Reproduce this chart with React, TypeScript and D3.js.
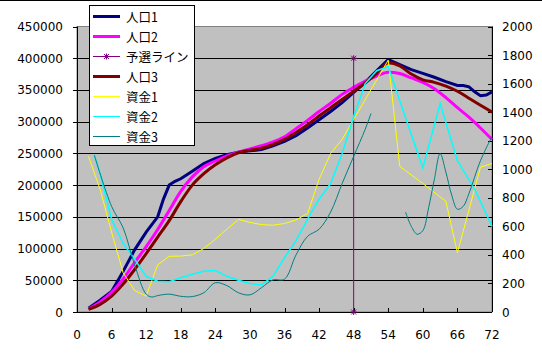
import React from 'react';
import * as d3 from 'd3';

// x positions (months) and values
const ages = [2, 4, 6, 8, 10, 12, 14, 16, 18, 20, 22, 24, 26, 28, 30, 32, 34, 36, 38, 40, 42, 44, 46, 48, 50, 52, 54, 56, 58, 60, 62, 64, 66, 68, 70, 72];

const pop1X = [2, 4, 6, 8, 10, 12, 14, 15, 16, 17, 18, 20, 22, 24, 26, 28, 30, 32, 34, 36, 38, 40, 42, 44, 46, 48, 50, 52, 54, 56, 58, 60, 62, 64, 66, 67, 68, 69, 70, 71, 72];
const pop1 = [6000, 18500, 32500, 64000, 98000, 126000, 150000, 178000, 200000, 206000, 210000, 222000, 234000, 242000, 248000, 252000, 254000, 256000, 262000, 269000, 278000, 290000, 303000, 316000, 330000, 346000, 362000, 380000, 398000, 390000, 382000, 376000, 370000, 363000, 357000, 357000, 355000, 347000, 341000, 342000, 347000];

const pop2 = [5000, 16000, 31000, 52000, 78000, 103000, 130000, 160000, 190000, 213000, 229000, 238000, 246000, 252000, 257000, 262000, 268000, 276000, 289000, 302000, 316000, 329000, 343000, 354000, 364000, 372000, 378000, 376000, 369000, 362000, 352000, 338000, 322000, 307000, 290000, 272000];

const pop3 = [4000, 12000, 25000, 44000, 67000, 92000, 118000, 144000, 174000, 200000, 218000, 232000, 243000, 251000, 255000, 258000, 264000, 272000, 283000, 295000, 309000, 322000, 335000, 348000, 361000, 376000, 393000, 388000, 375000, 366000, 362000, 356000, 348000, 337000, 326000, 315000];

const cutX = [48, 48];
const cut = [0, 400000];

const fund1X = [2, 4, 6, 8, 10, 12, 14, 16, 18, 20, 22, 24, 26, 28, 30, 32, 34, 36, 38, 40, 42, 44, 46, 54, 56, 60, 64, 66, 70, 72];
const fund1 = [1090, 860, 560, 275, 150, 112, 330, 390, 392, 400, 445, 510, 580, 648, 628, 612, 608, 620, 645, 690, 930, 1110, 1210, 1765, 1020, 900, 775, 415, 1015, 1040];

const fund2X = [3, 4, 6, 8, 10, 12, 14, 16, 18, 20, 22, 24, 26, 28, 30, 32, 34, 36, 38, 40, 42, 44, 46, 48, 50, 52, 54, 57, 60, 63, 66, 69, 72];
const fund2 = [1100, 970, 650, 480, 370, 250, 215, 212, 240, 265, 285, 290, 250, 222, 200, 190, 250, 380, 500, 650, 790, 900, 1110, 1370, 1600, 1690, 1720, 1360, 1010, 1460, 1060, 860, 600];

const fund3X = [3, 6, 8, 10, 12, 13, 14, 16, 18, 20, 22, 24, 26, 28, 30, 32, 34, 36, 38, 40, 42, 44, 46, 48, 50, 51, 54, 57, 58, 59, 60, 61, 62, 63, 64, 65, 66, 67, 68, 70, 72];
const fund3 = [1100, 740, 590, 330, 125, 105, 115, 125, 110, 108, 135, 205, 185, 135, 120, 170, 225, 230, 400, 530, 580, 700, 900, 1090, 1280, 1390, null, 700, 600, 545, 570, 730, 930, 1110, 980, 820, 720, 740, 830, 1060, 1230];

const leftTicks = [0, 50000, 100000, 150000, 200000, 250000, 300000, 350000, 400000, 450000];
const rightTicks = [0, 200, 400, 600, 800, 1000, 1200, 1400, 1600, 1800, 2000];
const xTicks = [0, 6, 12, 18, 24, 30, 36, 42, 48, 54, 60, 66, 72];

const legendItems = [
  { name: '人口1', color: '#000080', w: 3 },
  { name: '人口2', color: '#FF00FF', w: 3 },
  { name: '予選ライン', color: '#800080', w: 1, star: true },
  { name: '人口3', color: '#800000', w: 3 },
  { name: '資金1', color: '#FFFF00', w: 1 },
  { name: '資金2', color: '#00FFFF', w: 1 },
  { name: '資金3', color: '#008080', w: 1 },
];

const W = 542, H = 353;
const left = 77, right = 492, top = 26.5, bottom = 312;
const numFont = 'DejaVu Sans, Verdana, sans-serif';

const Star = ({ cx, cy, color }) => (
  <g stroke={color} strokeWidth={1}>
    <line x1={cx - 3} y1={cy} x2={cx + 3} y2={cy} />
    <line x1={cx} y1={cy - 3} x2={cx} y2={cy + 3} />
    <line x1={cx - 2.5} y1={cy - 2.5} x2={cx + 2.5} y2={cy + 2.5} />
    <line x1={cx - 2.5} y1={cy + 2.5} x2={cx + 2.5} y2={cy - 2.5} />
  </g>
);

export default function App() {
  const x = d3.scaleLinear().domain([0, 72]).range([left, right]);
  const yL = d3.scaleLinear().domain([0, 450000]).range([bottom, top]);
  const yR = d3.scaleLinear().domain([0, 2000]).range([bottom, top]);

  const mk = (xs, vs, y, curve = d3.curveLinear) =>
    d3.line<number>()
      .defined((_, i) => vs[i] != null)
      .x((_, i) => x(xs[i]))
      .y((_, i) => y(vs[i]))
      .curve(curve)(vs as number[]);

  return (
    <svg width={W} height={H} style={{ position: 'absolute', left: 0, top: 0, background: '#fff' }}>
      <line x1={0} y1={0.5} x2={W} y2={0.5} stroke="#000" />
      <rect x={left} y={top} width={right - left} height={bottom - top} fill="#C0C0C0" stroke="#808080" />

      {/* gridlines */}
      {leftTicks.slice(1, -1).map(t => (
        <line key={t} x1={left} x2={right} y1={Math.round(yL(t)) + 0.5} y2={Math.round(yL(t)) + 0.5} stroke="#000" />
      ))}

      {/* axes */}
      <line x1={left + 0.5} x2={left + 0.5} y1={top} y2={bottom} stroke="#000" />
      <line x1={right + 0.5} x2={right + 0.5} y1={top} y2={bottom} stroke="#000" />
      <line x1={left} x2={right} y1={bottom + 0.5} y2={bottom + 0.5} stroke="#000" />

      {leftTicks.map(t => (
        <g key={t}>
          <line x1={left - 4} x2={left} y1={Math.round(yL(t)) + 0.5} y2={Math.round(yL(t)) + 0.5} stroke="#000" />
          <text x={63} y={yL(t) + 4.5} textAnchor="end" fontFamily={numFont} fontSize={12}>{t}</text>
        </g>
      ))}
      {rightTicks.map(t => (
        <g key={t}>
          <line x1={right - 4} x2={right} y1={Math.round(yR(t)) + 0.5} y2={Math.round(yR(t)) + 0.5} stroke="#000" />
          <text x={502} y={yR(t) + 4.5} fontFamily={numFont} fontSize={12}>{t}</text>
        </g>
      ))}
      {xTicks.map(t => (
        <g key={t}>
          <line x1={Math.round(x(t)) + 0.5} x2={Math.round(x(t)) + 0.5} y1={bottom - 4} y2={bottom} stroke="#000" />
          <text x={x(t)} y={338.5} textAnchor="middle" fontFamily={numFont} fontSize={12}>{t}</text>
        </g>
      ))}

      {/* series */}
      <path d={mk(pop1X, pop1, yL)} fill="none" stroke="#000080" strokeWidth={3} />
      <path d={mk(ages, pop2, yL, d3.curveMonotoneX)} fill="none" stroke="#FF00FF" strokeWidth={3} />
      <path d={mk(cutX, cut, yL)} fill="none" stroke="#800080" strokeWidth={1} />
      {cut.map((v, i) => <Star key={i} cx={x(cutX[i])} cy={yL(v)} color="#800080" />)}
      <path d={mk(ages, pop3, yL, d3.curveMonotoneX)} fill="none" stroke="#800000" strokeWidth={3} />
      <path d={mk(fund1X, fund1, yR)} fill="none" stroke="#FFFF00" strokeWidth={1} />
      <path d={mk(fund2X, fund2, yR)} fill="none" stroke="#00FFFF" strokeWidth={1.5} />
      <path d={mk(fund3X, fund3, yR, d3.curveCatmullRom)} fill="none" stroke="#008080" strokeWidth={1} />

      {/* legend */}
      <rect x={89.5} y={5.5} width={105} height={140} fill="#fff" stroke="#000" />
      {legendItems.map((d, i) => {
        const cy = 16.5 + i * 20;
        return (
          <g key={d.name}>
            <line x1={93} x2={120} y1={cy} y2={cy} stroke={d.color} strokeWidth={d.w} />
            {d.star && <Star cx={106.5} cy={cy} color={d.color} />}
            <text x={126} y={cy + 5} fontFamily="Noto Sans CJK JP, sans-serif" fontSize={12.5}>{d.name}</text>
          </g>
        );
      })}
    </svg>
  );
}
